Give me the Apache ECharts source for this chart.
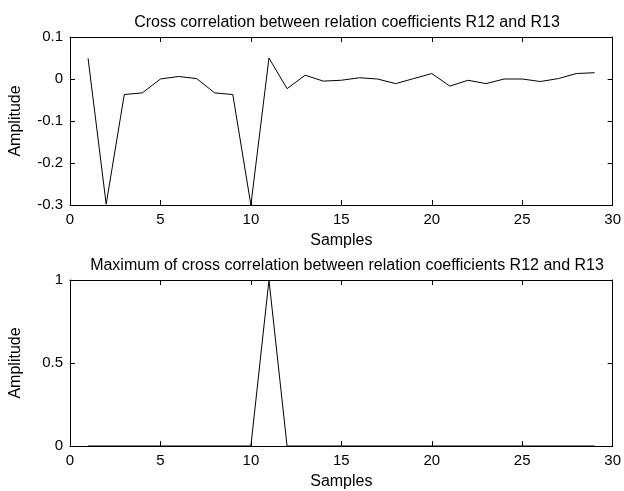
<!DOCTYPE html>
<html><head><meta charset="utf-8">
<script src="https://cdn.jsdelivr.net/npm/echarts@6/dist/echarts.min.js"></script>
<style>html,body{margin:0;padding:0;background:#fff}#c{width:624px;height:491px}</style>
</head><body><div id="c"></div>
<script>
const samples = [1,2,3,4,5,6,7,8,9,10,11,12,13,14,15,16,17,18,19,20,21,22,23,24,25,26,27,28,29];
const crossCorr = [0.049,-0.298,-0.037,-0.033,0,0.006,0.001,-0.033,-0.037,-0.3,0.05,-0.023,0.009,-0.005,-0.003,0.003,0,-0.011,0.001,0.013,-0.017,-0.003,-0.011,0,0,-0.006,0.001,0.013,0.015];
const maxCorr = [0,0,0,0,0,0,0,0,0,0,1,0,0,0,0,0,0,0,0,0,0,0,0,0,0,0,0,0,0];
const title1 = 'Cross correlation between relation coefficients R12 and R13';
const title2 = 'Maximum of cross correlation between relation coefficients R12 and R13';
const xName = 'Samples', yName = 'Amplitude';

const FONT = 'Liberation Sans, Arial, sans-serif';
const txt = {color:'#000', fontFamily:FONT, fontSize:16};
const lineS = {show:true, onZero:false, lineStyle:{color:'#000', width:1}};
const tickS = {show:true, inside:true, length:5, lineStyle:{color:'#000', width:1}};

function xAx(g, pos, labels){
  return {type:'value', gridIndex:g, position:pos, min:0, max:30, interval:5,
    axisLine:lineS, axisTick:tickS, splitLine:{show:false},
    axisLabel:{show:labels, margin:7, ...txt, fontSize:15},
    name: labels ? xName : '', nameLocation:'middle', nameGap:28, nameTextStyle:txt};
}
function yAx(g, pos, labels, min, max, interval, fmt){
  return {type:'value', gridIndex:g, position:pos, min, max, interval,
    axisLine:lineS, axisTick:tickS, splitLine:{show:false},
    axisLabel:{show:labels, margin:7, ...txt, fontSize:15, formatter:fmt},
    name: labels ? yName : '', nameLocation:'middle', nameGap:46, nameTextStyle:txt};
}
const chart = echarts.init(document.getElementById('c'));
chart.setOption({
  backgroundColor:'#fff',
  animation:false,
  title:[
    {text:title1, left:342, top:10, textAlign:'center', textStyle:{...txt, fontWeight:'normal'}},
    {text:title2, left:342, top:253, textAlign:'center', textStyle:{...txt, fontWeight:'normal'}}
  ],
  grid:[
    {left:68, right:8, top:37, height:168},
    {left:68, right:8, top:280, height:168}
  ],
  xAxis:[xAx(0,'bottom',true), xAx(0,'top',false), xAx(1,'bottom',true), xAx(1,'top',false)],
  yAxis:[
    yAx(0,'left',true,-0.3,0.1,0.1, v=>{const r=Math.round(v*10)/10; return r===0?'0':String(r);}),
    yAx(0,'right',false,-0.3,0.1,0.1),
    yAx(1,'left',true,0,1,0.5, v=>String(v)),
    yAx(1,'right',false,0,1,0.5)
  ],
  series:[
    {type:'line', xAxisIndex:0, yAxisIndex:0, data:samples.map((s,i)=>[s,crossCorr[i]]), showSymbol:false, lineStyle:{color:'#000', width:1}},
    {type:'line', xAxisIndex:2, yAxisIndex:2, data:samples.map((s,i)=>[s,maxCorr[i]]), showSymbol:false, lineStyle:{color:'#000', width:1}}
  ]
});
</script></body></html>
